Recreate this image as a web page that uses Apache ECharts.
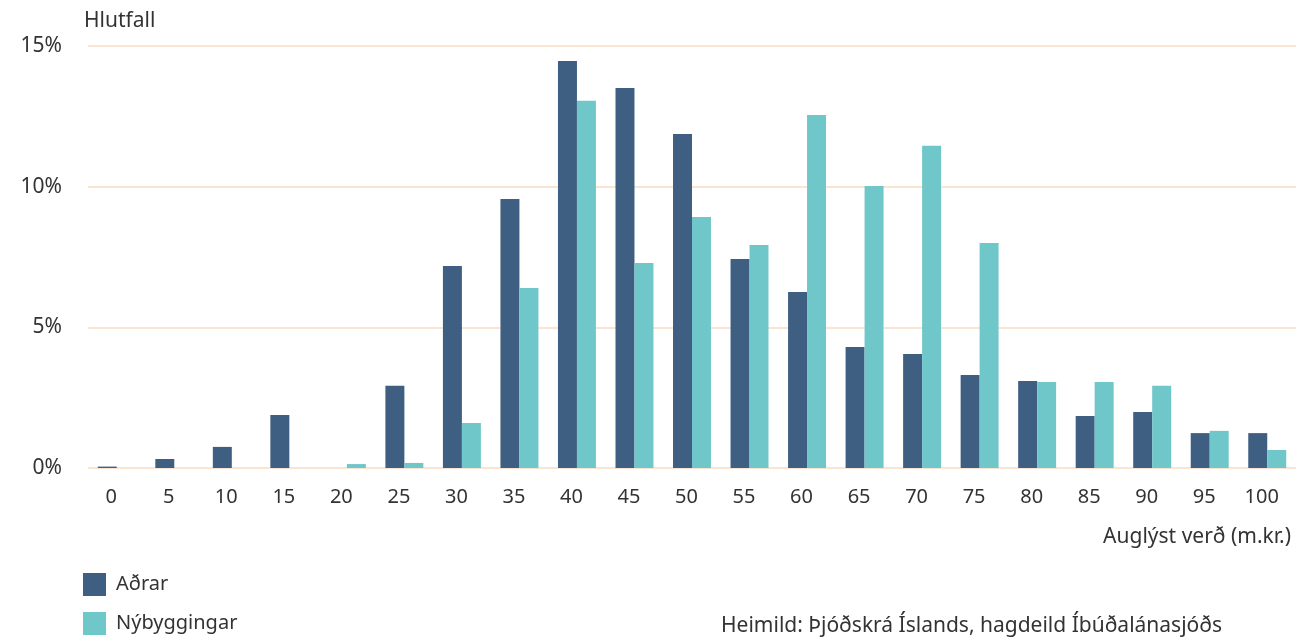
<!DOCTYPE html>
<html>
<head>
<meta charset="utf-8">
<script src="https://cdn.jsdelivr.net/npm/echarts@6/dist/echarts.min.js"></script>
<style>
  html, body { margin: 0; padding: 0; background: #fff; }
  #main { width: 1296px; height: 641px; }
</style>
</head>
<body>
<div id="main"></div>
<script>
// Auglýst verð (m.kr.) flokkar
var categories = ['0', '5', '10', '15', '20', '25', '30', '35', '40', '45', '50',
  '55', '60', '65', '70', '75', '80', '85', '90', '95', '100'];
// hlutfall í %
var adrar = [0.05, 0.32, 0.75, 1.88, 0, 2.92, 7.18, 9.56, 14.47, 13.51, 11.87,
  7.43, 6.26, 4.30, 4.05, 3.31, 3.09, 1.85, 1.99, 1.24, 1.24];
var nybyggingar = [0, 0, 0, 0, 0.14, 0.18, 1.60, 6.40, 13.05, 7.29, 8.92,
  7.93, 12.55, 10.02, 11.45, 8.00, 3.06, 3.06, 2.92, 1.32, 0.64];
var yTicks = [0, 5, 10, 15];

var font = 'Noto Sans';
var textColor = '#333';

var myChart = echarts.init(document.getElementById('main'));
myChart.setOption({
  textStyle: { fontFamily: font },
  animation: false,
  grid: { left: 88, right: 0, top: 46, bottom: 173 },
  title: [
    { text: 'Hlutfall', left: 79, top: 6,
      textStyle: { fontFamily: font, fontSize: 21, fontWeight: 'normal', color: textColor } },
    { text: 'Heimild: Þjóðskrá Íslands, hagdeild Íbúðalánasjóðs', left: 716, top: 611,
      textStyle: { fontFamily: font, fontSize: 21, fontWeight: 'normal', color: textColor } }
  ],
  legend: {
    orient: 'vertical', left: 83, top: 573, padding: 0,
    itemWidth: 23, itemHeight: 23, itemGap: 16,
    icon: 'rect',
    textStyle: { fontFamily: font, fontSize: 20, color: textColor, padding: [0, 0, 0, 5] },
    data: ['Aðrar', 'Nýbyggingar']
  },
  xAxis: {
    type: 'category',
    data: categories,
    name: 'Auglýst verð (m.kr.)',
    nameLocation: 'end',
    nameGap: 0,
    nameTextStyle: { fontFamily: font, fontSize: 21, color: textColor,
      align: 'right', verticalAlign: 'top', padding: [59, 5, 0, 0] },
    axisLine: { show: false },
    axisTick: { show: false },
    axisLabel: { fontFamily: font, fontSize: 20, color: textColor, margin: 19, interval: 0,
      padding: [0, 11, 0, 0] }
  },
  yAxis: {
    type: 'value',
    min: 0, max: 15, interval: 5,
    axisLine: { show: false },
    axisTick: { show: false },
    axisLabel: { fontFamily: font, fontSize: 21, color: textColor, margin: 26,
      padding: [0, 0, 6, 0],
      formatter: function (v) { return yTicks.indexOf(v) >= 0 ? v + '%' : ''; } },
    splitLine: { lineStyle: { color: '#f8dcc4', width: 1.5 } }
  },
  series: [
    { name: 'Aðrar', type: 'bar', data: adrar, barGap: 0, barCategoryGap: '34%',
      itemStyle: { color: '#3e5f82' } },
    { name: 'Nýbyggingar', type: 'bar', data: nybyggingar,
      itemStyle: { color: '#70c7c9' } }
  ]
});
</script>
</body>
</html>
